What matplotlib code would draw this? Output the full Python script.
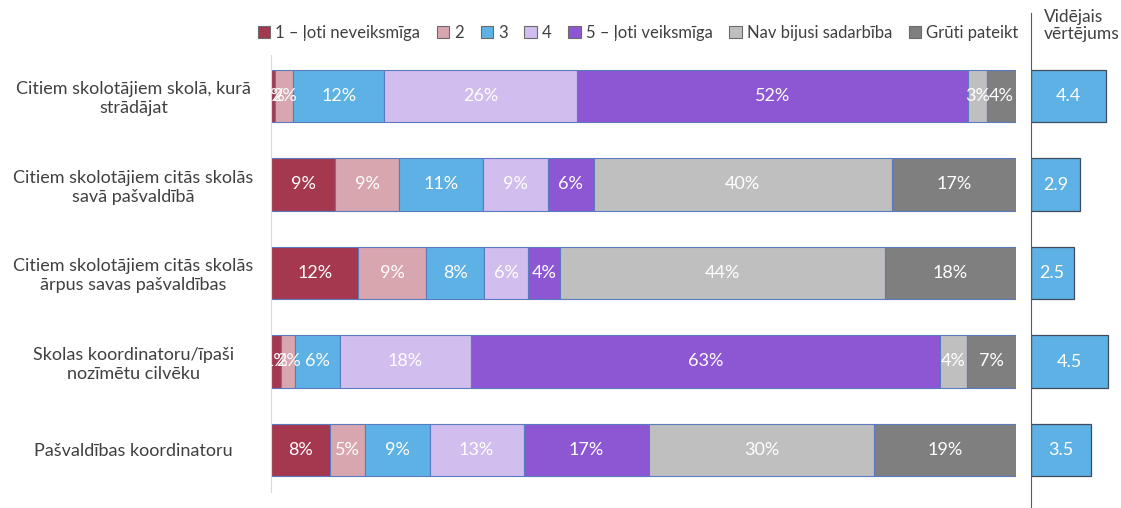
import matplotlib
matplotlib.use("Agg")
import matplotlib.pyplot as plt
from matplotlib.patches import Patch

plt.rcParams['font.family'] = ['Lato', 'DejaVu Sans']

# categories, top to bottom
categories = ["Citiem skolotājiem skolā, kurā\nstrādājat",
              "Citiem skolotājiem citās skolās\nsavā pašvaldībā",
              "Citiem skolotājiem citās skolās\nārpus savas pašvaldības",
              "Skolas koordinatoru/īpaši\nnozīmētu cilvēku",
              "Pašvaldības koordinatoru"]

series_names = ["1 – ļoti neveiksmīga", "2", "3", "4", "5 – ļoti veiksmīga",
                "Nav bijusi sadarbība", "Grūti pateikt"]

s1 = [0.6, 8.6, 11.7, 1.4, 7.9]
s2 = [2.4, 8.6, 9.1, 1.8, 4.7]
s3 = [12.2, 11.2, 7.8, 6.0, 8.7]
s4 = [25.9, 8.8, 5.9, 17.6, 12.6]
s5 = [52.4, 6.1, 4.3, 63.0, 16.9]
nav = [2.6, 40.0, 43.6, 3.6, 30.1]
gruti = [3.9, 16.7, 17.6, 6.6, 19.1]

avg = [4.4, 2.9, 2.5, 4.5, 3.5]

colors = ["#A5384F", "#D8A6AF", "#5EB1E4", "#D1BDEE", "#8D57D4", "#BFBFBF", "#7F7F7F"]
text_col = "#404040"

W, H = 1121, 508
fig = plt.figure(figsize=(W / 100, H / 100), dpi=100)

# main stacked bar axes
ax = fig.add_axes([271 / W, 1 - 492 / H, 745 / W, 437 / H])
rows = list(range(len(categories)))
left = [0.0] * len(categories)
for name, vals, c in zip(series_names, [s1, s2, s3, s4, s5, nav, gruti], colors):
    ax.barh(rows, vals, left=left, height=0.59, color=c, edgecolor="#5B7BC0", linewidth=0.8)
    for i, v in enumerate(vals):
        ax.text(left[i] + v / 2, i, f"{v:.0f}%", ha="center", va="center",
                color="white", fontsize=13)
    left = [l + v for l, v in zip(left, vals)]

ax.set_xlim(0, 100)
ax.set_ylim(4.475, -0.463)
ax.set_yticks(rows)
ax.set_yticklabels(categories, fontsize=13, color=text_col, ha="center", linespacing=1.2)
ax.tick_params(axis="y", length=0, pad=99)
ax.set_xticks([])
for sp in ["top", "right", "bottom"]:
    ax.spines[sp].set_visible(False)
ax.spines["left"].set_color("#D9D9D9")

handles = [Patch(facecolor=c, edgecolor="#6B6B6B", linewidth=0.8) for c in colors]
fig.legend(handles, series_names, loc="center", bbox_to_anchor=(638 / W, 1 - 33 / H),
           ncol=7, frameon=False, fontsize=12, handlelength=0.75, handleheight=0.75,
           handletextpad=0.3, columnspacing=1.0, labelcolor=text_col)

# average score axes
ax2 = fig.add_axes([1031 / W, 0, 90 / W, 1 - 13 / H])
ax2.barh(rows, avg, height=0.59, color="#5EB1E4", edgecolor="#3E4C5E", linewidth=0.9)
for i, v in enumerate(avg):
    ax2.text(v / 2, i, f"{v:.1f}", ha="center", va="center", color="white", fontsize=13)
ax2.set_xlim(0, 90 / 17)
ax2.set_ylim(4.655, -0.938)
ax2.set_xticks([])
ax2.set_yticks([])
for sp in ["top", "right", "bottom"]:
    ax2.spines[sp].set_visible(False)
ax2.spines["left"].set_color("#595959")

fig.text(1044 / W, 1 - 9 / H, "Vidējais\nvērtējums", ha="left", va="top",
         fontsize=12.5, color=text_col, linespacing=1.05)

fig.savefig("out.png", dpi=100)
